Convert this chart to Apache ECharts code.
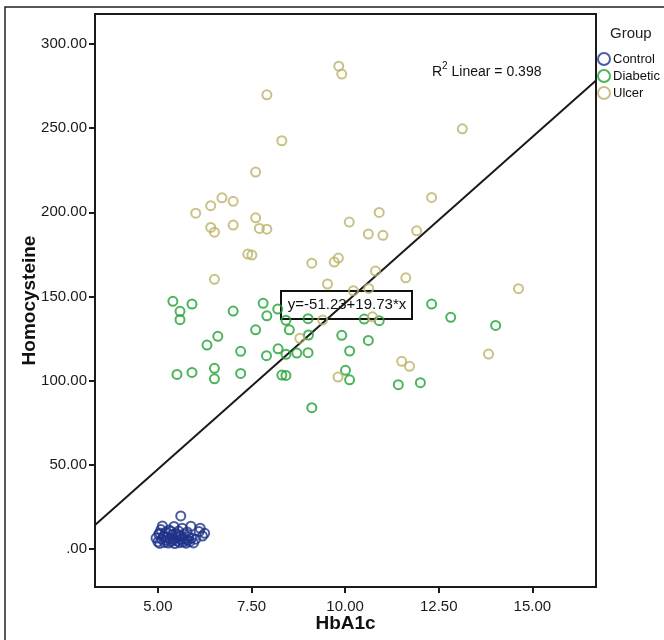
<!DOCTYPE html>
<html>
<head>
<meta charset="utf-8">
<script src="https://cdn.jsdelivr.net/npm/echarts@6/dist/echarts.min.js"></script>
<style>
  html, body { margin: 0; padding: 0; background: #fff; }
  #chart { width: 664px; height: 640px; }
</style>
</head>
<body>
<div id="chart"></div>
<script>
// data: [HbA1c, Homocysteine]
var control = [
  [4.95,6.5],[5.0,4.2],[5.02,8.8],[5.05,3.3],[5.08,11.5],[5.1,5.8],[5.12,13.7],[5.15,7.6],
  [5.18,3.9],[5.2,9.9],[5.22,5.1],[5.25,7.0],[5.28,3.5],[5.3,11.2],[5.32,6.2],[5.35,4.4],
  [5.38,8.4],[5.43,13.4],[5.42,5.4],[5.45,3.2],[5.48,9.4],[5.5,6.8],[5.52,4.8],[5.55,10.6],
  [5.58,3.7],[5.6,7.8],[5.61,19.6],[5.62,5.6],[5.65,12.3],[5.68,4.1],[5.7,8.9],[5.72,6.0],
  [5.75,3.4],[5.78,10.1],[5.8,5.2],[5.82,7.3],[5.85,4.3],[5.88,13.5],[5.9,6.4],[5.95,3.6],
  [6.01,5.8],[6.1,10.3],[6.13,12.3],[6.19,7.7],[6.25,9.3],[5.05,9.5],[5.35,10.5],[5.55,8.0]
];
var diabetic = [
  [5.40,147.1],[5.91,145.5],[5.59,141.2],[5.59,136.2],[7.01,141.3],[7.81,145.9],[7.91,138.5],
  [8.20,142.5],[8.42,135.8],[8.51,130.2],[9.01,136.8],[7.61,130.2],[6.60,126.3],[6.31,121.1],
  [7.21,117.4],[7.90,114.8],[8.21,118.9],[8.42,115.6],[8.71,116.4],[9.01,116.6],[9.02,127.1],
  [9.91,126.9],[5.51,103.7],[5.91,104.9],[6.51,107.3],[6.51,101.1],[7.21,104.3],[8.31,103.3],
  [8.42,103.1],[9.11,83.9],[12.31,145.5],[12.82,137.6],[14.02,132.8],[10.51,136.6],[10.91,135.6],
  [10.62,123.9],[10.12,117.6],[10.01,106.1],[10.12,100.5],[11.42,97.6],[12.01,98.8]
];
var ulcer = [
  [9.83,286.8],[9.91,282.1],[7.91,269.8],[8.31,242.5],[13.13,249.6],[7.61,223.9],[6.01,199.5],
  [6.41,203.9],[6.71,208.6],[7.01,206.5],[6.41,191.0],[6.51,188.2],[7.01,192.4],[7.61,196.7],
  [7.71,190.4],[7.91,190.0],[7.40,175.2],[7.51,174.6],[9.11,169.8],[9.71,170.4],[9.82,172.8],
  [6.51,160.2],[12.31,208.8],[10.91,199.9],[10.11,194.2],[10.62,187.1],[11.01,186.3],[11.91,189.0],
  [10.81,165.1],[11.62,161.1],[9.53,157.4],[14.63,154.6],[10.22,153.4],[10.63,154.8],[9.40,136.0],
  [8.79,125.1],[10.73,137.9],[13.83,115.8],[11.51,111.5],[11.72,108.5],[9.81,102.1]
];
var groupNames = ['Control', 'Diabetic', 'Ulcer'];
var groupColors = ['#1f3288', '#1fa133', '#bdb267'];
var xTicks = [5, 7.5, 10, 12.5, 15];
var yTicks = [0, 50, 100, 150, 200, 250, 300];
// fit line as printed on the chart
var fitIntercept = -51.23;
var fitSlope = 19.73;
var xMin = 3.32, xMax = 16.7;
var yMin = -22.6, yMax = 317.8;

var font = 'Liberation Sans';
var myChart = echarts.init(document.getElementById('chart'));

function tickLabel(v) {
    return v === 0 ? '.00' : Number(v).toFixed(2);
}

function scatterSeries(i, data) {
    return {
        name: groupNames[i],
        type: 'scatter',
        data: data,
        symbol: 'circle',
        symbolSize: 9,
        itemStyle: {
            color: 'rgba(255,255,255,0)',
            borderColor: groupColors[i],
            borderWidth: 2
        },
        z: 3
    };
}

var option = {
    animation: false,
    textStyle: { fontFamily: font },
    grid: {
        left: 95, top: 14, right: 68, bottom: 53,
        show: true,
        borderColor: '#1a1a1a',
        borderWidth: 2
    },
    legend: {
        orient: 'vertical',
        left: 592,
        top: 47,
        itemWidth: 12,
        itemHeight: 12,
        itemGap: 3,
        icon: 'circle',
        data: groupNames,
        textStyle: { fontFamily: font, fontSize: 13, color: '#111', padding: [0, 0, 0, -2] }
    },
    xAxis: {
        type: 'value',
        min: xMin,
        max: xMax,
        name: 'HbA1c',
        nameLocation: 'middle',
        nameGap: 27,
        nameMoveOverlap: false,
        nameTextStyle: { fontFamily: font, fontSize: 19, fontWeight: 'bold', color: '#111' },
        splitLine: { show: false },
        axisLine: { show: true, onZero: false, lineStyle: { color: '#1a1a1a', width: 2 } },
        axisTick: { show: true, length: 6, customValues: xTicks, lineStyle: { color: '#1a1a1a', width: 2 } },
        axisLabel: {
            customValues: xTicks,
            formatter: tickLabel,
            margin: 12,
            fontSize: 15,
            color: '#1a1a1a'
        }
    },
    yAxis: {
        type: 'value',
        min: yMin,
        max: yMax,
        name: 'Homocysteine',
        nameLocation: 'middle',
        nameGap: 56,
        nameMoveOverlap: false,
        nameTextStyle: { fontFamily: font, fontSize: 19, fontWeight: 'bold', color: '#111' },
        splitLine: { show: false },
        axisLine: { show: true, onZero: false, lineStyle: { color: '#1a1a1a', width: 2 } },
        axisTick: { show: true, length: 6, customValues: yTicks, lineStyle: { color: '#1a1a1a', width: 2 } },
        axisLabel: {
            customValues: yTicks,
            formatter: tickLabel,
            margin: 8,
            fontSize: 15,
            color: '#1a1a1a'
        }
    },
    series: [
        scatterSeries(0, control),
        scatterSeries(1, diabetic),
        scatterSeries(2, ulcer),
        {
            name: 'fit',
            type: 'line',
            data: [[xMin, fitIntercept + fitSlope * xMin], [xMax, fitIntercept + fitSlope * xMax]],
            showSymbol: false,
            silent: true,
            lineStyle: { color: '#1a1a1a', width: 2 },
            z: 2
        }
    ],
    graphic: [
        {
            type: 'rect',
            shape: { x: 5, y: 7, width: 680, height: 660 },
            style: { fill: 'none', stroke: '#222', lineWidth: 1.5 },
            silent: true, z: 0
        },
        {
            type: 'text',
            left: 610, top: 26,
            style: { text: 'Group', fontFamily: font, fontSize: 15, fill: '#222' },
            z: 10
        },
        {
            type: 'text',
            left: 432, top: 61,
            style: {
                text: '{b|R}{s|2}{b| Linear = 0.398}',
                fontFamily: font,
                rich: {
                    b: { fontFamily: font, fontSize: 14, fill: '#111', verticalAlign: 'bottom', lineHeight: 18 },
                    s: { fontFamily: font, fontSize: 10, fill: '#111', verticalAlign: 'top', lineHeight: 18 }
                }
            },
            z: 10
        },
        {
            type: 'group',
            left: 280, top: 290,
            z: 20,
            children: [
                {
                    type: 'rect',
                    shape: { x: 0, y: 0, width: 131, height: 28 },
                    style: { fill: '#fff', stroke: '#111', lineWidth: 2 }
                },
                {
                    type: 'text',
                    x: 66, y: 14,
                    style: {
                        text: 'y=-51.23+19.73*x',
                        fontFamily: font, fontSize: 15, fill: '#111',
                        align: 'center', verticalAlign: 'middle'
                    }
                }
            ]
        }
    ]
};

myChart.setOption(option);
</script>
</body>
</html>
